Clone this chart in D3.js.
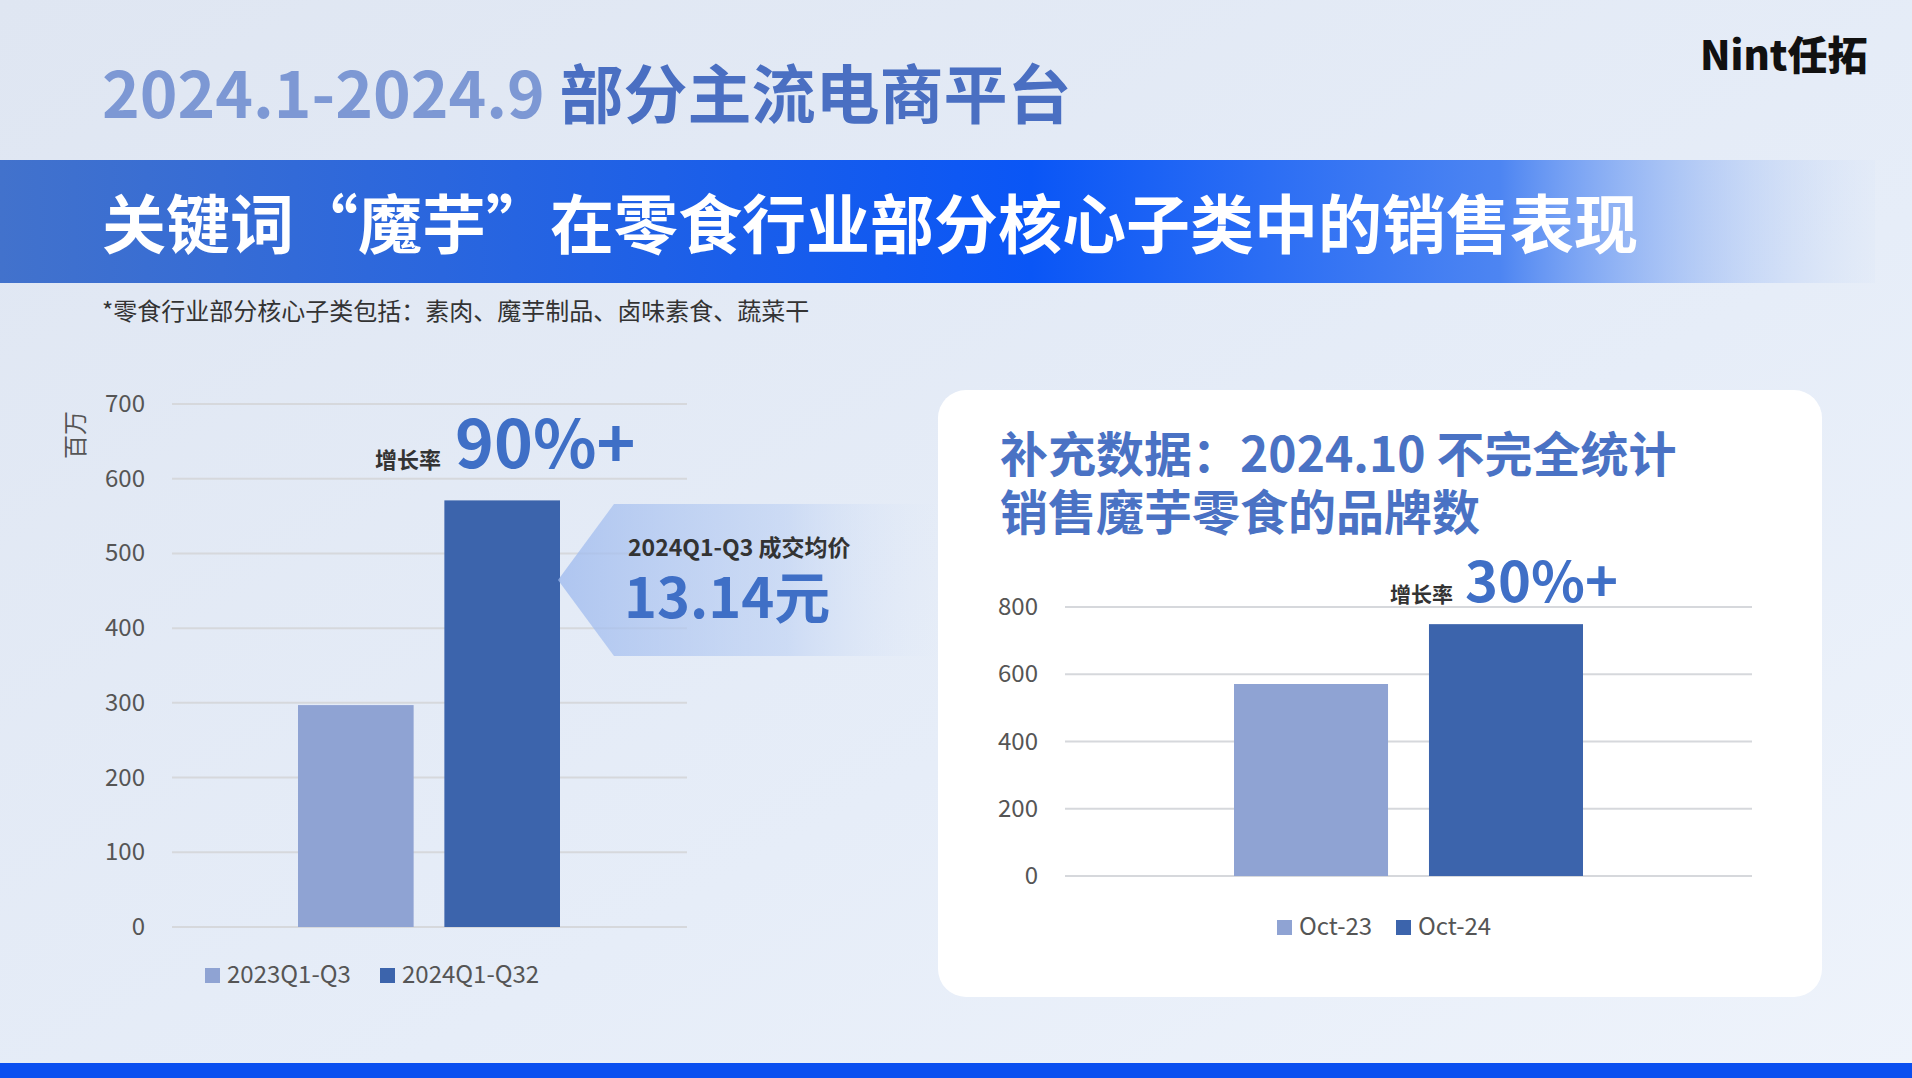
<!DOCTYPE html>
<html><head><meta charset="utf-8">
<script src="https://cdn.jsdelivr.net/npm/d3@7"></script>
<style>body{margin:0;overflow:hidden}svg{display:block}</style>
</head><body><svg id="c" width="1912" height="1078"></svg>
<script>
const leftCats = ['2023Q1-Q3', '2024Q1-Q32']
const leftValues = [297, 571]
const leftTicks = [0, 100, 200, 300, 400, 500, 600, 700]
const rightCats = ['Oct-23', 'Oct-24']
const rightValues = [571, 749]
const rightTicks = [0, 200, 400, 600, 800]
const colors = ['#8fa3d3', '#3c64ac']
const font = '"Noto Sans CJK SC", "Noto Sans", sans-serif'

const svg = d3.select('#c').style('font-family', font)
const defs = svg.append('defs')

let bg = defs.append('linearGradient').attr('id', 'bg').attr('x1', 0).attr('y1', 0).attr('x2', 1).attr('y2', 1)
bg.append('stop').attr('offset', 0).attr('stop-color', '#dfe6f2')
bg.append('stop').attr('offset', 0.6).attr('stop-color', '#e6edf8')
bg.append('stop').attr('offset', 1).attr('stop-color', '#eef3fb')
svg.append('rect').attr('width', 1912).attr('height', 1078).attr('fill', 'url(#bg)')

let band = defs.append('linearGradient').attr('id', 'band')
band.append('stop').attr('offset', 0).attr('stop-color', '#4272cc')
band.append('stop').attr('offset', 0.55).attr('stop-color', '#0a56f6')
band.append('stop').attr('offset', 0.8).attr('stop-color', '#4d85f2')
band.append('stop').attr('offset', 1).attr('stop-color', '#dde7f7').attr('stop-opacity', 0.3)
svg.append('rect').attr('x', 0).attr('y', 160).attr('width', 1875).attr('height', 123).attr('fill', 'url(#band)')
svg.append('rect').attr('x', 0).attr('y', 1063).attr('width', 1912).attr('height', 15).attr('fill', '#0a4ff0')

// titles
let t1 = svg.append('text').attr('x', 102).attr('y', 118).attr('font-size', 64).attr('font-weight', 700)
t1.append('tspan').attr('fill', '#7d98d4').text('2024.1-2024.9 ')
t1.append('tspan').attr('fill', '#4a6fc2').text('部分主流电商平台')
svg.append('text').attr('x', 102).attr('y', 248).attr('font-size', 64).attr('font-weight', 700)
    .attr('fill', '#fff').text('关键词“魔芋”在零食行业部分核心子类中的销售表现')
svg.append('text').attr('x', 102).attr('y', 320).attr('font-size', 24).attr('fill', '#333')
    .text('*零食行业部分核心子类包括：素肉、魔芋制品、卤味素食、蔬菜干')
svg.append('text').attr('x', 1700).attr('y', 70).attr('font-size', 40).attr('font-weight', 900)
    .attr('fill', '#111').text('Nint任拓')

// left chart
const ly = d3.scaleLinear().domain([0, 700]).range([927, 404])
const lx = d3.scaleBand().domain(leftCats).range([298, 560]).paddingInner(0.21)
const lg = svg.append('g')
lg.selectAll('.grid').data(leftTicks).join('line')
    .attr('x1', 172).attr('x2', 687).attr('y1', d => ly(d)).attr('y2', d => ly(d))
    .attr('stroke', '#d6d8dc').attr('stroke-width', 2)
lg.selectAll('.tick').data(leftTicks).join('text')
    .attr('x', 145).attr('y', d => ly(d) + 8).attr('text-anchor', 'end')
    .attr('font-size', 24).attr('fill', '#555').text(d => d)
svg.append('text').attr('transform', 'translate(84,435) rotate(-90)').attr('text-anchor', 'middle')
    .attr('font-size', 24).attr('fill', '#555').text('百万')

// callout arrow
let co = defs.append('linearGradient').attr('id', 'co')
co.append('stop').attr('offset', 0).attr('stop-color', '#9db9ee').attr('stop-opacity', 0.75)
co.append('stop').attr('offset', 0.6).attr('stop-color', '#bcd0f3').attr('stop-opacity', 0.6)
co.append('stop').attr('offset', 1).attr('stop-color', '#dbe6f8').attr('stop-opacity', 0)
svg.append('path').attr('d', 'M558,580 L614,504 L940,504 L940,656 L614,656 Z').attr('fill', 'url(#co)')

lg.selectAll('rect').data(leftValues).join('rect')
    .attr('x', (d, i) => lx(leftCats[i])).attr('width', lx.bandwidth())
    .attr('y', d => ly(d)).attr('height', d => ly(0) - ly(d))
    .attr('fill', (d, i) => colors[i])

svg.append('text').attr('x', 628).attr('y', 556).attr('font-size', 23).attr('font-weight', 700)
    .attr('fill', '#333').text('2024Q1-Q3 成交均价')
svg.append('text').attr('x', 624).attr('y', 618).attr('font-size', 56).attr('font-weight', 700)
    .attr('fill', '#3f6fc6').text('13.14元')

let g1 = svg.append('text').attr('y', 468)
g1.append('tspan').attr('x', 375).attr('font-size', 22).attr('font-weight', 700).attr('fill', '#333').text('增长率')
g1.append('tspan').attr('dx', 14).attr('font-size', 66).attr('font-weight', 700).attr('fill', '#3f6fc6').text('90%+')

const leg1 = svg.append('g').selectAll('g').data(leftCats).join('g')
    .attr('transform', (d, i) => `translate(${[205, 380][i]},968)`)
leg1.append('rect').attr('width', 15).attr('height', 15).attr('fill', (d, i) => colors[i])
leg1.append('text').attr('x', 22).attr('y', 15).attr('font-size', 24).attr('fill', '#555').text(d => d)

// right card
svg.append('rect').attr('x', 938).attr('y', 390).attr('width', 884).attr('height', 607).attr('rx', 28)
    .attr('fill', '#fff')
svg.append('text').attr('x', 1000).attr('y', 472).attr('font-size', 48).attr('font-weight', 700)
    .attr('fill', '#4a72c4').text('补充数据：2024.10 不完全统计')
svg.append('text').attr('x', 1000).attr('y', 530).attr('font-size', 48).attr('font-weight', 700)
    .attr('fill', '#4a72c4').text('销售魔芋零食的品牌数')

const ry = d3.scaleLinear().domain([0, 800]).range([876, 607])
const rx = d3.scaleBand().domain(rightCats).range([1234, 1583]).paddingInner(0.21)
const rg = svg.append('g')
rg.selectAll('line').data(rightTicks).join('line')
    .attr('x1', 1065).attr('x2', 1752).attr('y1', d => ry(d)).attr('y2', d => ry(d))
    .attr('stroke', '#d6d8dc').attr('stroke-width', 2)
rg.selectAll('text').data(rightTicks).join('text')
    .attr('x', 1038).attr('y', d => ry(d) + 8).attr('text-anchor', 'end')
    .attr('font-size', 24).attr('fill', '#555').text(d => d)
rg.selectAll('rect').data(rightValues).join('rect')
    .attr('x', (d, i) => rx(rightCats[i])).attr('width', rx.bandwidth())
    .attr('y', d => ry(d)).attr('height', d => ry(0) - ry(d))
    .attr('fill', (d, i) => colors[i])

let g2 = svg.append('text').attr('y', 602)
g2.append('tspan').attr('x', 1390).attr('font-size', 21).attr('font-weight', 700).attr('fill', '#333').text('增长率')
g2.append('tspan').attr('dx', 12).attr('font-size', 56).attr('font-weight', 700).attr('fill', '#3f6fc6').text('30%+')

const leg2 = svg.append('g').selectAll('g').data(rightCats).join('g')
    .attr('transform', (d, i) => `translate(${[1277, 1396][i]},920)`)
leg2.append('rect').attr('width', 15).attr('height', 15).attr('fill', (d, i) => colors[i])
leg2.append('text').attr('x', 22).attr('y', 15).attr('font-size', 24).attr('fill', '#555').text(d => d)
</script></body></html>
